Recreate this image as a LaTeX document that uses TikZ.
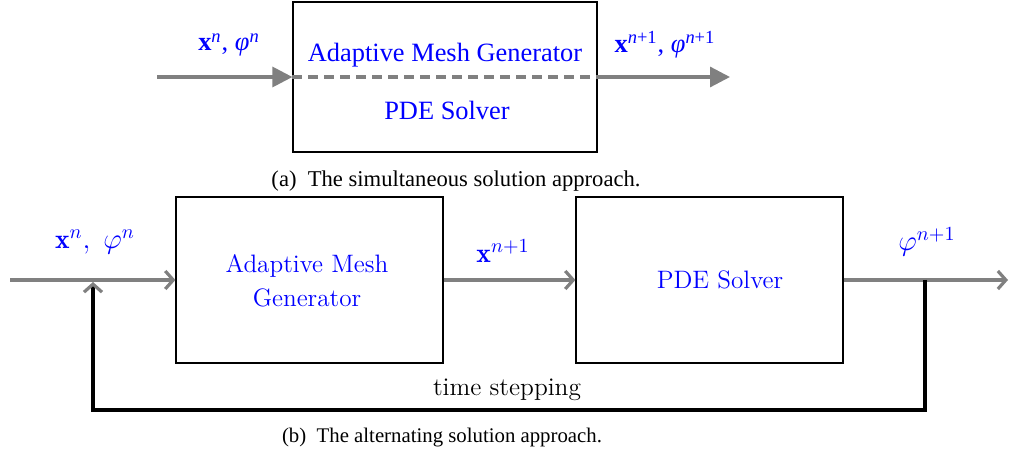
\documentclass[tikz,border=0pt]{standalone}
\usepackage{fontspec}
\newfontfamily\timesfont{Liberation Serif}
\usetikzlibrary{arrows.meta,positioning,calc}

\tikzset{
    blockbox/.style={draw, line width=0.6pt, minimum width=#1, minimum height=83pt},
    flow/.style={draw=gray, line width=1.6pt},
    feedback/.style={draw=black, line width=1.6pt},
    bluetext/.style={text=blue, font=\fontsize{12.6}{15}\selectfont},
    mathlabel/.style={text=blue, font=\fontsize{13.8}{16}\selectfont},
    simtext/.style={text=blue, font=\timesfont\fontsize{13.2}{15}\selectfont},
    captext/.style={font=\timesfont\fontsize{#1}{12}\selectfont}
}

\begin{document}
\begin{tikzpicture}[x=0.5pt, y=-0.5pt]
    \useasboundingbox (0,0) rectangle (1014,460);

    % (a) simultaneous
    \node[draw, line width=0.6pt, minimum width=152pt, minimum height=75pt] (sim) at (445,77) {};
    \node[simtext] (simmesh) at (445,55) {Adaptive Mesh Generator};
    \node[simtext] (simpde) at (447,110) {PDE Solver};
    \coordinate (simin) at (157,77);
    \coordinate (simout) at (730,77);
    \draw[flow, -{Triangle[length=10pt, width=10pt]}] (simin) -- (sim.west);
    \draw[flow, dash pattern=on 5pt off 3pt] (sim.west) -- (sim.east);
    \draw[flow, -{Triangle[length=10pt, width=10pt]}] (sim.east) -- (simout);
    \node[simtext] (simold) at (229,45) {{\bfseries x}\textsuperscript{\itshape n}, \textit{φ}\textsuperscript{\itshape n}};
    \node[simtext] (simnew) at (665,45) {{\bfseries x}\textsuperscript{{\itshape n}+1}, \textit{φ}\textsuperscript{{\itshape n}+1}};
    \node[captext=11.3] (capa) at (456,181) {(a)\enspace The simultaneous solution approach.};

    % (b) alternating
    \node[blockbox=133.5pt] (amg) at (309.5,280) {};
    \node[bluetext, align=center] (amgtext) at (307,281) {Adaptive Mesh\\[2pt]Generator};
    \node[blockbox=133.5pt] (pde) at (709.5,280) {};
    \node[bluetext] (pdetext) at (720,280) {PDE Solver};
    \coordinate (altin) at (10,280);
    \coordinate (altout) at (1008,280);
    \coordinate (split) at (925,280);
    \coordinate (join) at (93,282);
    \draw[flow, -{Straight Barb[length=4pt, width=9pt]}] (altin) -- (amg.west);
    \draw[flow, -{Straight Barb[length=4pt, width=9pt]}] (amg.east) -- (pde.west);
    \draw[flow, -{Straight Barb[length=4pt, width=9pt]}] (pde.east) -- (altout);
    \draw[feedback, -{Straight Barb[gray, length=4pt, width=9pt]}] (split) -- ++(0,130) -| (join);
    \node[mathlabel] (altold) at (95,242) {$\mathbf{x}^n,\;\varphi^n$};
    \node[mathlabel] (altmid) at (503,251) {$\mathbf{x}^{n+1}$};
    \node[mathlabel] (altnew) at (927,242) {$\varphi^{n+1}$};
    \node[font=\fontsize{12.7}{15}\selectfont] (loop) at (507,390) {time stepping};
    \node[captext=10.4] (capb) at (442,438) {(b)\enspace The alternating solution approach.};
\end{tikzpicture}
\end{document}
